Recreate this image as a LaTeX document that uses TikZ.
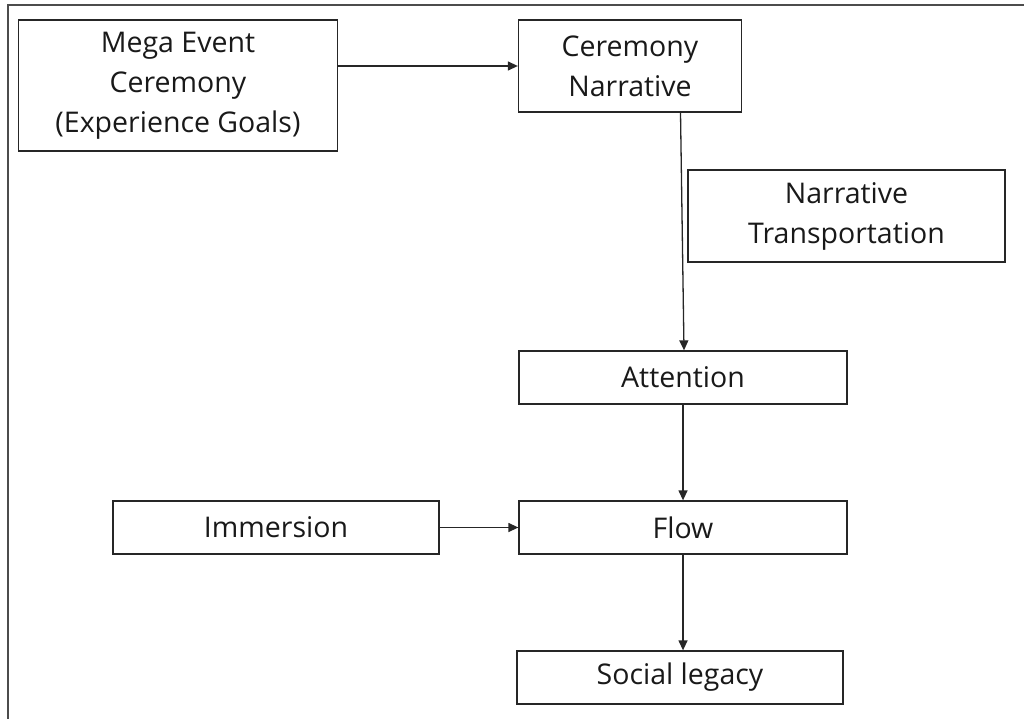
\documentclass[tikz,border=0pt]{standalone}
\usepackage{fontspec}
\setmainfont{Open Sans}[Ligatures=NoCommon]
\usetikzlibrary{arrows.meta}
\begin{document}
\begin{tikzpicture}[x=1pt,y=-1pt,
  box/.style={draw=black!85, line width=1.3pt, inner sep=0pt, align=center,
    font=\fontsize{28.5}{40}\selectfont, text=black!90},
  conn/.style={draw=black!85, line width=1.3pt, -{Triangle[length=10pt,width=9pt]}}]
\useasboundingbox (0,0) rectangle (1024,719);
\draw[black!70, line width=1.4pt] (8,719) -- (8,5) -- (1024,5);
\node[box, minimum width=319pt, minimum height=131pt] (mega) at (178,85.5) {Mega Event\\Ceremony\\(Experience Goals)};
\node[box, minimum width=223pt, minimum height=92pt] (cn) at (630,66) {Ceremony\\Narrative};
\node[box, minimum width=317pt, minimum height=92pt] (nt) at (846.5,216) {Narrative\\Transportation};
\node[box, minimum width=328pt, minimum height=53pt] (att) at (683,377.5) {Attention};
\node[box, minimum width=328pt, minimum height=53pt] (flow) at (683,527.5) {Flow};
\node[box, minimum width=326pt, minimum height=53pt] (imm) at (276,527.5) {Immersion};
\node[box, minimum width=326pt, minimum height=53pt] (soc) at (680,677.5) {Social legacy};
\draw[conn] (mega.east |- cn.west) -- (cn.west);
\draw[conn] ([xshift=50.5pt]cn.south) -- ([xshift=1pt]att.north);
\draw[conn] (att.south) -- (flow.north);
\draw[conn] (imm.east) -- (flow.west);
\draw[conn] (flow.south) -- (flow.south |- soc.north);
\end{tikzpicture}
\end{document}
